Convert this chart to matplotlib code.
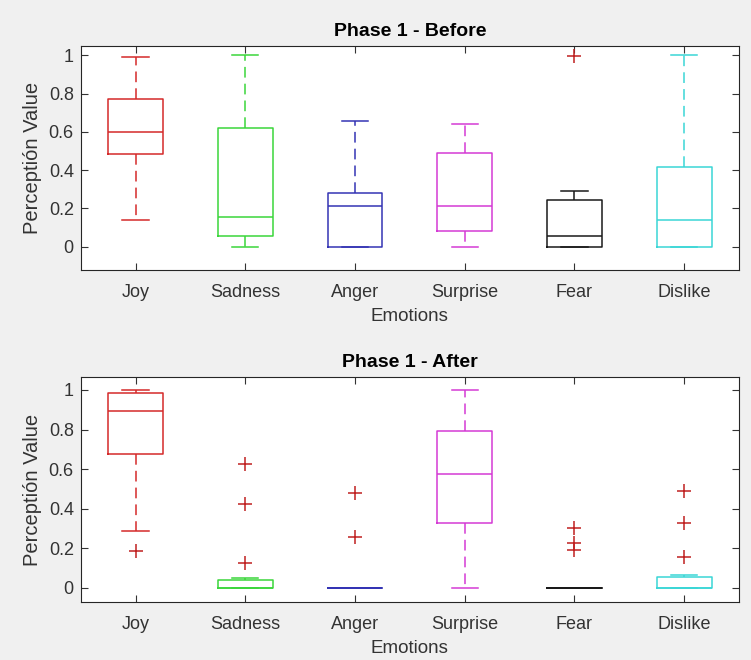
import matplotlib
matplotlib.use("Agg")
import matplotlib.pyplot as plt

plt.rcParams['font.family'] = ['Liberation Sans', 'DejaVu Sans']

emotions = ['Joy', 'Sadness', 'Anger', 'Surprise', 'Fear', 'Dislike']
box_colors = ['#d42a2a', '#3ad63a', '#3434b4', '#d43ad4', '#1a1a1a', '#3ad6d6']

# (whislo, q1, med, q3, whishi) per emotion
before_stats = [
    (0.14, 0.485, 0.60, 0.77, 0.99),
    (0.0, 0.056, 0.154, 0.62, 1.0),
    (0.0, 0.0, 0.213, 0.279, 0.658),
    (0.0, 0.084, 0.213, 0.489, 0.642),
    (0.0, 0.0, 0.054, 0.244, 0.291),
    (0.0, 0.0, 0.138, 0.414, 1.0),
]
before_fliers = [[], [], [], [], [0.995], []]

after_stats = [
    (0.288, 0.676, 0.894, 0.986, 1.0),
    (0.0, 0.0, 0.0, 0.039, 0.049),
    (0.0, 0.0, 0.0, 0.0, 0.0),
    (0.0, 0.327, 0.573, 0.793, 1.0),
    (0.0, 0.0, 0.0, 0.0, 0.0),
    (0.0, 0.0, 0.0, 0.052, 0.062),
]
after_fliers = [[0.184], [0.627, 0.422, 0.126], [0.481, 0.258], [],
                [0.304, 0.228, 0.189], [0.489, 0.329, 0.155]]

titles = ['Phase 1 - Before', 'Phase 1 - After']
ylims = [(-0.122, 1.05), (-0.074, 1.067)]
axes_rects = [[0.1075, 0.591, 0.8766, 0.3394], [0.1075, 0.0874, 0.8766, 0.3418]]

fig = plt.figure(figsize=(7.51, 6.6), dpi=100, facecolor='#f0f0f0')

for rect, title, stats, fliers, ylim in zip(axes_rects, titles,
                                            [before_stats, after_stats],
                                            [before_fliers, after_fliers], ylims):
    ax = fig.add_axes(rect)
    ax.set_facecolor('white')
    for i, (s, fl) in enumerate(zip(stats, fliers)):
        c = box_colors[i]
        d = dict(whislo=s[0], q1=s[1], med=s[2], q3=s[3], whishi=s[4], fliers=fl)
        ax.bxp([d], positions=[i + 1], widths=0.5, capwidths=0.24,
               showfliers=True,
               boxprops=dict(color=c, linewidth=1.1),
               medianprops=dict(color=c, linewidth=1.1),
               whiskerprops=dict(color=c, linewidth=1.1, linestyle=(0, (7, 4))),
               capprops=dict(color=c, linewidth=1.1),
               flierprops=dict(marker='+', markeredgecolor='#c02020',
                               markersize=10, markeredgewidth=1.1, linestyle='none'))
    ax.set_xlim(0.5, 6.5)
    ax.set_ylim(*ylim)
    ax.set_xticks(range(1, 7))
    ax.set_xticklabels(emotions)
    ax.set_yticks([0, 0.2, 0.4, 0.6, 0.8, 1])
    ax.set_yticklabels(['0', '0.2', '0.4', '0.6', '0.8', '1'])
    ax.tick_params(direction='in', top=True, right=True, length=5,
                   labelsize=13, colors='#333333', width=0.8)
    ax.tick_params(axis='x', pad=10)
    ax.tick_params(axis='y', pad=5)
    for sp in ax.spines.values():
        sp.set_color('#262626')
        sp.set_linewidth(0.8)
    ax.set_title(title, fontsize=14, fontweight='bold', color='black', pad=7)
    ax.set_xlabel('Emotions', fontsize=13.5, color='#333333', labelpad=5)
    ax.set_ylabel('Perceptión Value', fontsize=14.5, color='#333333', labelpad=5)

fig.savefig('out.png', dpi=100, facecolor=fig.get_facecolor())
